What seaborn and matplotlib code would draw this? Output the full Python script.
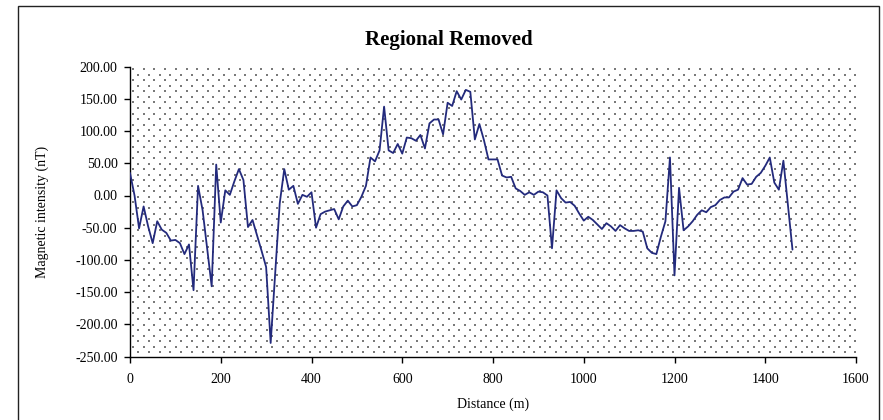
import numpy as np
import pandas as pd
import matplotlib
matplotlib.use("Agg")
import matplotlib.pyplot as plt
from matplotlib.ticker import FormatStrFormatter, MultipleLocator
from matplotlib.patches import Rectangle
import seaborn as sns

# Survey stations along the profile (m)
distance = [
    0, 10, 20, 30, 40, 50, 60, 70, 80, 90,
    100, 110, 120, 130, 140, 150, 160, 170, 180, 190,
    200, 210, 220, 230, 240, 250, 260, 270, 280, 290,
    300, 310, 320, 330, 340, 350, 360, 370, 380, 390,
    400, 410, 420, 430, 440, 450, 460, 470, 480, 490,
    500, 510, 520, 530, 540, 550, 560, 570, 580, 590,
    600, 610, 620, 630, 640, 650, 660, 670, 680, 690,
    700, 710, 720, 730, 740, 750, 760, 770, 780, 790,
    800, 810, 820, 830, 840, 850, 860, 870, 880, 890,
    900, 910, 920, 930, 940, 950, 960, 970, 980, 990,
    1000, 1010, 1020, 1030, 1040, 1050, 1060, 1070, 1080, 1090,
    1100, 1110, 1120, 1130, 1140, 1150, 1160, 1170, 1180, 1190,
    1200, 1210, 1220, 1230, 1240, 1250, 1260, 1270, 1280, 1290,
    1300, 1310, 1320, 1330, 1340, 1350, 1360, 1370, 1380, 1390,
    1400, 1410, 1420, 1430, 1440, 1450, 1460,
]

# Residual magnetic intensity after regional trend removal (nT)
residual = [
    35, 0, -51, -17, -48, -74, -40, -53, -58, -70,
    -69, -74, -91, -76, -147, 15, -23, -82, -141, 48,
    -42, 8, 1, 22, 41, 24, -49, -38, -62, -86,
    -111, -229, -120, -12, 41, 9, 15, -13, 1, -2,
    5, -50, -29, -25, -23, -21, -37, -17, -8, -17,
    -15, -2, 15, 59, 53, 70, 138, 70, 66, 80,
    65, 90, 89, 85, 94, 73, 112, 118, 118, 95,
    144, 139, 162, 149, 164, 161, 87, 111, 86, 56,
    56, 56, 31, 28, 29, 11, 7, 1, 5, 1,
    6, 5, 0, -82, 8, -4, -11, -10, -16, -28,
    -39, -33, -38, -45, -52, -43, -48, -55, -46, -51,
    -55, -55, -54, -56, -82, -89, -91, -64, -40, 59,
    -124, 12, -54, -48, -40, -30, -23, -26, -18, -15,
    -7, -3, -3, 6, 9, 27, 17, 18, 29, 35,
    46, 59, 20, 9, 54, -15, -84,
]

title = "Regional Removed"
x_label = "Distance (m)"
y_label = "Magnetic intensity (nT)"

df = pd.DataFrame({"Distance": distance, "Residual": residual})

sns.set_theme(style="white")
plt.rcParams["font.family"] = ["Liberation Serif", "DejaVu Serif"]
plt.rcParams["axes.unicode_minus"] = False

W, H = 883, 420
fig = plt.figure(figsize=(W / 100, H / 100), dpi=100)
ax_left, ax_right, ax_top, ax_bottom = 130, 856, 66.7, 356.5
ax = fig.add_axes([ax_left / W, 1 - ax_bottom / H,
                   (ax_right - ax_left) / W, (ax_bottom - ax_top) / H])

# Dotted plot-area fill: staggered grid of small grey dots
aw, ah = ax_right - ax_left, ax_bottom - ax_top
step_x, step_y = 10.7, 5.55
dots_x, dots_y = [], []
for j, yy in enumerate(np.arange(2.5, ah, step_y)):
    off = 0 if j % 2 == 0 else step_x / 2
    for xx in np.arange(3.0 + off, aw, step_x):
        dots_x.append(xx / aw)
        dots_y.append(1 - yy / ah)
ax.scatter(dots_x, dots_y, transform=ax.transAxes, s=0.7, marker="s",
           color="#7a7a7a", linewidths=0, zorder=0.5, clip_on=True)

sns.lineplot(data=df, x="Distance", y="Residual", ax=ax, color="#232A7C",
             linewidth=1.3, zorder=3, estimator=None, sort=False)

ax.set_xlim(0, 1600)
ax.set_ylim(-250, 200)
ax.xaxis.set_major_locator(MultipleLocator(200))
ax.yaxis.set_major_locator(MultipleLocator(50))
ax.yaxis.set_major_formatter(FormatStrFormatter("%.2f"))
ax.tick_params(axis="both", which="major", direction="out", length=4,
               width=1, color="black", labelsize=10, labelcolor="black")
ax.tick_params(axis="y", pad=5)
ax.tick_params(axis="x", pad=8)
ax.tick_params(left=True, bottom=True)

for side in ("top", "right"):
    ax.spines[side].set_visible(False)
for side in ("left", "bottom"):
    ax.spines[side].set_color("black")
    ax.spines[side].set_linewidth(1.0)

ax.set_xlabel(x_label, fontsize=10, color="black")
ax.set_ylabel(y_label, fontsize=10, color="black")
ax.xaxis.set_label_coords(0.5, -0.142)
ax.yaxis.set_label_coords(-0.112, 0.5)
ax.xaxis.label.set_va("top")

fig.text(449 / W, 1 - 40 / H, title, ha="center", va="center",
         fontsize=15, fontweight="bold", color="black")

# Chart-area border
fig.patches.append(Rectangle((18 / W, -0.05), (879 - 18) / W, 1.05 - 5.7 / H,
                             transform=fig.transFigure, fill=False,
                             edgecolor="#222222", linewidth=1.0))

fig.savefig("out.png", dpi=100)
